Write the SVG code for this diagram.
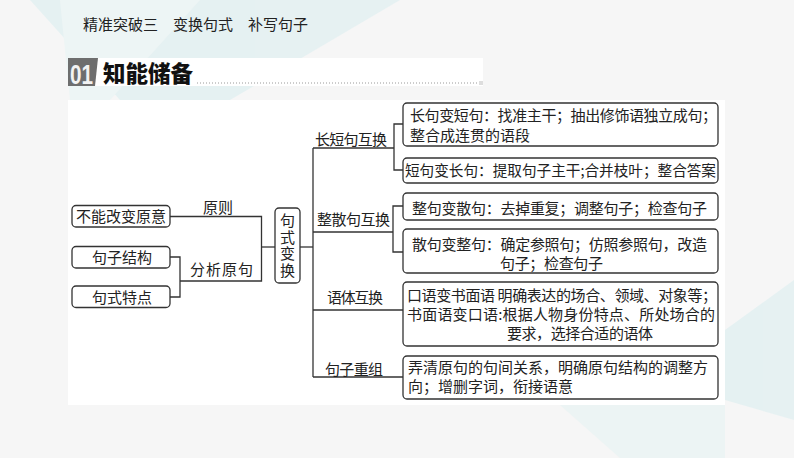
<svg xmlns="http://www.w3.org/2000/svg" width="794" height="458" viewBox="0 0 794 458">
<style>
.t{font-family:"Noto Sans CJK SC","Noto Sans",sans-serif;font-size:15px;fill:#222}
.box{fill:#fff;stroke:#333;stroke-width:1.3}
.ln{fill:none;stroke:#333;stroke-width:1.3}
</style>
<rect width="794" height="458" fill="#f6f6f6"/>
<g id="background" opacity="0.9">
<polygon points="30,0 400,0 230,100 120,100" fill="#e4f1f2"/>
<polygon points="60,0 200,0 110,100 70,100" fill="#edf5f5"/>
<polygon points="725,330 794,280 794,420 725,400" fill="#e4f1f2"/>
<polygon points="560,405 725,405 725,458 620,458" fill="#ecf4f4"/>
</g>
<text class="t" x="83" y="30" fill="#333">精准突破三　变换句式　补写句子</text>
<g id="header">
<rect x="68" y="58" width="415" height="28" fill="#fff"/>
<polygon points="68,58 98,58 95,86 68,86" fill="#6e6e6e"/>
<text x="70" y="84" font-family="'Liberation Sans',sans-serif" font-size="27" font-weight="bold" fill="#f2f2f2" textLength="23" lengthAdjust="spacingAndGlyphs">01</text>
<text x="103" y="82" font-family="'Noto Sans CJK SC',sans-serif" font-size="22.5" font-weight="900" fill="#111">知能储备</text>
<line x1="197" y1="83" x2="478" y2="83" stroke="#9a9a9a" stroke-width="1" stroke-dasharray="1,2"/>
<rect x="479" y="81" width="4" height="4" fill="#ddd"/>
</g>
<rect x="68" y="100" width="657" height="305" fill="#fff"/>
<g id="connectors">
<path class="ln" d="M170,216.5 H261.5 V281 H180"/>
<path class="ln" d="M170,257 H180 V297 H170"/>
<path class="ln" d="M261.5,247 H275"/>
<path class="ln" d="M300,247 H313"/>
<path class="ln" d="M313,148 V377"/>
<path class="ln" d="M313,148 H394"/>
<path class="ln" d="M403,124 H394 V170 H403"/>
<path class="ln" d="M313,232 H393"/>
<path class="ln" d="M403,206 H393 V252 H403"/>
<path class="ln" d="M313,310 H403"/>
<path class="ln" d="M313,377 H403"/>
</g>
<g id="n-principle">
<rect class="box" x="72" y="205.5" width="98" height="21.5" rx="4"/>
<text class="t" x="76" y="222" textLength="90" lengthAdjust="spacing">不能改变原意</text>
</g>
<g id="n-structure">
<rect class="box" x="72" y="246.5" width="98" height="21.5" rx="4"/>
<text class="t" x="92" y="263">句子结构</text>
</g>
<g id="n-feature">
<rect class="box" x="72" y="286" width="98" height="21.5" rx="4"/>
<text class="t" x="92" y="302.5">句式特点</text>
</g>
<g id="labels-left">
<text class="t" x="203" y="213">原则</text>
<text class="t" x="190" y="275" textLength="63" lengthAdjust="spacing">分析原句</text>
</g>
<g id="n-center">
<rect class="box" x="275" y="208" width="25" height="75" rx="4"/>
<text class="t" x="287.5" y="213" style="writing-mode:vertical-rl;letter-spacing:1.5px">句式变换</text>
</g>
<g id="branch-labels">
<text class="t" x="315" y="145" textLength="72" lengthAdjust="spacing">长短句互换</text>
<text class="t" x="317" y="225" textLength="73" lengthAdjust="spacing">整散句互换</text>
<text class="t" x="327" y="303" textLength="56" lengthAdjust="spacing">语体互换</text>
<text class="t" x="325" y="375" textLength="58" lengthAdjust="spacing">句子重组</text>
</g>
<g id="n-long-short">
<rect class="box" x="403" y="103" width="315" height="43" rx="4"/>
<text class="t" x="410" y="121" textLength="307" lengthAdjust="spacing">长句变短句：找准主干；抽出修饰语独立成句；</text>
<text class="t" x="410" y="141">整合成连贯的语段</text>
</g>
<g id="n-short-long">
<rect class="box" x="403" y="158" width="315" height="25" rx="4"/>
<text class="t" x="405" y="176" textLength="311" lengthAdjust="spacingAndGlyphs">短句变长句：提取句子主干;合并枝叶；整合答案</text>
</g>
<g id="n-whole-loose">
<rect class="box" x="403" y="193" width="315" height="27" rx="4"/>
<text class="t" x="412" y="214" textLength="295" lengthAdjust="spacing">整句变散句：去掉重复；调整句子；检查句子</text>
</g>
<g id="n-loose-whole">
<rect class="box" x="403" y="229" width="315" height="44" rx="4"/>
<text class="t" x="412" y="250" textLength="295" lengthAdjust="spacing">散句变整句：确定参照句；仿照参照句，改造</text>
<text class="t" x="500" y="269" textLength="103" lengthAdjust="spacing">句子；检查句子</text>
</g>
<g id="n-style">
<rect class="box" x="403" y="282" width="315" height="64" rx="4"/>
<text class="t" x="407" y="301" textLength="310" lengthAdjust="spacing">口语变书面语  明确表达的场合、领域、对象等；</text>
<text class="t" x="407" y="320" textLength="308" lengthAdjust="spacing">书面语变口语:根据人物身份特点、所处场合的</text>
<text class="t" x="507" y="339" textLength="146" lengthAdjust="spacing">要求，选择合适的语体</text>
</g>
<g id="n-regroup">
<rect class="box" x="403" y="356" width="315" height="43" rx="4"/>
<text class="t" x="408" y="373" textLength="300" lengthAdjust="spacing">弄清原句的句间关系，明确原句结构的调整方</text>
<text class="t" x="408" y="392">向；增删字词，衔接语意</text>
</g>
</svg>
